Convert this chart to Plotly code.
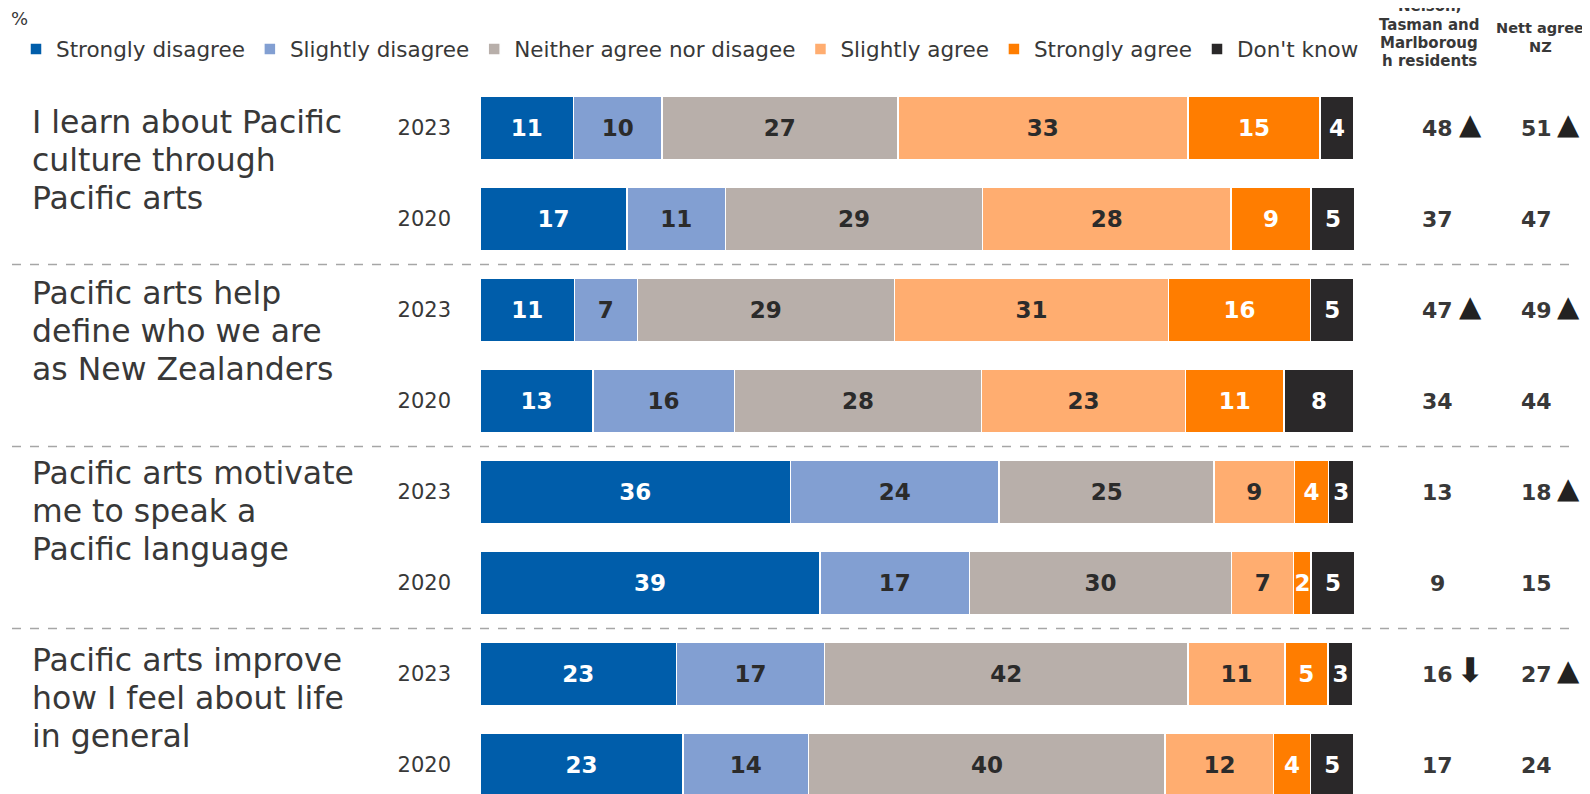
import plotly.graph_objects as go

W, H = 1590, 794
OFF = 8  # page body margin in the browser

categories = ["Strongly disagree", "Slightly disagree", "Neither agree nor disagee",
              "Slightly agree", "Strongly agree", "Don't know"]
colors = ["#005DAA", "#829FD2", "#B8AFAA", "#FFAD70", "#FF7D00", "#2A2829"]
label_colors = ["white", "#2B2B2B", "#2B2B2B", "#2B2B2B", "white", "white"]

questions = [["I learn about Pacific", "culture through", "Pacific arts"],
             ["Pacific arts help", "define who we are", "as New Zealanders"],
             ["Pacific arts motivate", "me to speak a", "Pacific language"],
             ["Pacific arts improve", "how I feel about life", "in general"]]
years = ["2023", "2020"]

# bar lengths (%) per row: Q1 2023, Q1 2020, Q2 2023, Q2 2020, ...
strongly_disagree = [10.7, 16.8, 10.8, 12.9, 35.5, 38.9, 22.5, 23.2]
slightly_disagree = [10.1, 11.3, 7.2, 16.2, 23.9, 17.1, 16.9, 14.4]
neither = [27.0, 29.4, 29.4, 28.3, 24.6, 30.0, 41.6, 40.8]
slightly_agree = [33.2, 28.4, 31.4, 23.3, 9.2, 7.1, 11.1, 12.4]
strongly_agree = [15.1, 9.2, 16.2, 11.3, 3.9, 2.0, 4.9, 4.2]
dont_know = [3.9, 5.0, 5.0, 8.0, 2.9, 5.0, 2.9, 5.0]

# printed labels
lab_sd = [11, 17, 11, 13, 36, 39, 23, 23]
lab_sld = [10, 11, 7, 16, 24, 17, 17, 14]
lab_n = [27, 29, 29, 28, 25, 30, 42, 40]
lab_sla = [33, 28, 31, 23, 9, 7, 11, 12]
lab_sa = [15, 9, 16, 11, 4, 2, 5, 4]
lab_dk = [4, 5, 5, 8, 3, 5, 3, 5]

region_agree = [48, 37, 47, 34, 13, 9, 16, 17]
region_sig = ["up", "", "up", "", "", "", "down", ""]
nz_agree = [51, 47, 49, 44, 18, 15, 27, 24]
nz_sig = ["up", "", "up", "", "up", "", "up", ""]

region_header = ["Nelson,", "Tasman and", "Marlboroug", "h residents"]
nz_header = ["Nett agree", "NZ"]

series = [strongly_disagree, slightly_disagree, neither, slightly_agree, strongly_agree, dont_know]
labels = [lab_sd, lab_sld, lab_n, lab_sla, lab_sa, lab_dk]

n_rows = len(questions) * len(years)
row_pos = list(range(n_rows))
row_text = [years[i % 2] for i in row_pos]

FONT = "DejaVu Sans"
TXT = "#383838"


def px(xw):
    return (xw - OFF) / W


def py(yw):
    return 1 - (yw - OFF) / H


fig = go.Figure()
for name, vals, labs, col, lc in zip(categories, series, labels, colors, label_colors):
    fig.add_trace(go.Bar(
        y=row_pos, x=vals, orientation="h", name=name,
        marker=dict(color=col, line=dict(color="white", width=1.5)),
        text=[f"<b>{v}</b>" for v in labs], textposition="inside",
        insidetextanchor="middle", textangle=0, constraintext="none",
        textfont=dict(color=lc, size=23, family=FONT),
        width=0.69, hoverinfo="skip",
    ))

# pixel mapping (window coordinates)
bar_x0, bar_x1 = 480, 1354
row0_px, row_step = 128, 91
y_top = -(row0_px - OFF) / row_step
y_bot = (H - (row0_px - OFF)) / row_step
line_step = 37.8 / row_step
q_offsets_px = [-6, -17, -19, -14]  # label block placement relative to first bar of each group

fig.update_layout(
    width=W, height=H, barmode="stack",
    margin=dict(l=0, r=0, t=0, b=0),
    plot_bgcolor="white", paper_bgcolor="white",
    font=dict(family=FONT, color=TXT),
    uniformtext=dict(minsize=14, mode="show"),
    xaxis=dict(domain=[px(bar_x0), px(bar_x1)], range=[0, 100], visible=False, fixedrange=True),
    yaxis=dict(range=[y_bot, y_top], tickvals=row_pos, ticktext=row_text,
               tickfont=dict(size=21, color=TXT, family=FONT), showgrid=False,
               zeroline=False, showline=False, ticks="", ticklabelstandoff=28),
    legend=dict(orientation="h", x=px(16), xanchor="left", y=py(49), yanchor="middle",
                font=dict(size=21.5, color=TXT, family=FONT), traceorder="normal",
                itemwidth=30, tracegroupgap=0, bgcolor="rgba(0,0,0,0)"),
    showlegend=True,
)

# separators
for g in range(1, len(questions)):
    yy = 2 * g - 0.5
    fig.add_shape(type="line", xref="paper", yref="y", x0=px(12), x1=px(1578), y0=yy, y1=yy,
                  line=dict(color="#A6A6A6", width=1.5, dash="dash"))

# question labels
for g, lines in enumerate(questions):
    for k, ln in enumerate(lines):
        fig.add_annotation(xref="paper", yref="y", x=px(30),
                           y=2 * g + q_offsets_px[g] / row_step + k * line_step,
                           text=ln, showarrow=False, xanchor="left", yanchor="middle", align="left",
                           font=dict(size=31.5, color=TXT, family=FONT))

# right columns
sym = {"up": "▲", "down": "⬇", "": ""}
sym_size = {"up": 29, "down": 34}
for i in row_pos:
    fig.add_annotation(xref="paper", yref="y", x=px(1437), y=i, text=f"<b>{region_agree[i]}</b>",
                       showarrow=False, xanchor="center", yanchor="middle",
                       font=dict(size=22, color=TXT, family=FONT))
    if region_sig[i]:
        fig.add_annotation(xref="paper", yref="y", x=px(1470), y=i - 0.04, text=sym[region_sig[i]],
                           showarrow=False, xanchor="center", yanchor="middle",
                           font=dict(size=sym_size[region_sig[i]], color="#222222", family=FONT))
    fig.add_annotation(xref="paper", yref="y", x=px(1536), y=i, text=f"<b>{nz_agree[i]}</b>",
                       showarrow=False, xanchor="center", yanchor="middle",
                       font=dict(size=22, color=TXT, family=FONT))
    if nz_sig[i]:
        fig.add_annotation(xref="paper", yref="y", x=px(1568), y=i - 0.04, text=sym[nz_sig[i]],
                           showarrow=False, xanchor="center", yanchor="middle",
                           font=dict(size=sym_size[nz_sig[i]], color="#222222", family=FONT))

# headers
for k, ln in enumerate(region_header):
    fig.add_annotation(xref="paper", yref="paper", x=px(1429), y=py(6 + 18.5 * k),
                       text=f"<b>{ln}</b>", showarrow=False, xanchor="center", yanchor="middle",
                       font=dict(size=15, color=TXT, family=FONT))
for k, ln in enumerate(nz_header):
    fig.add_annotation(xref="paper", yref="paper", x=px(1540), y=py(28 + 18.5 * k),
                       text=f"<b>{ln}</b>", showarrow=False, xanchor="center", yanchor="middle",
                       font=dict(size=14.5, color=TXT, family=FONT))
fig.add_annotation(xref="paper", yref="paper", x=px(9), y=py(19), text="%",
                   showarrow=False, xanchor="left", yanchor="middle",
                   font=dict(size=18, color=TXT, family=FONT))

fig.write_html("out.html")
